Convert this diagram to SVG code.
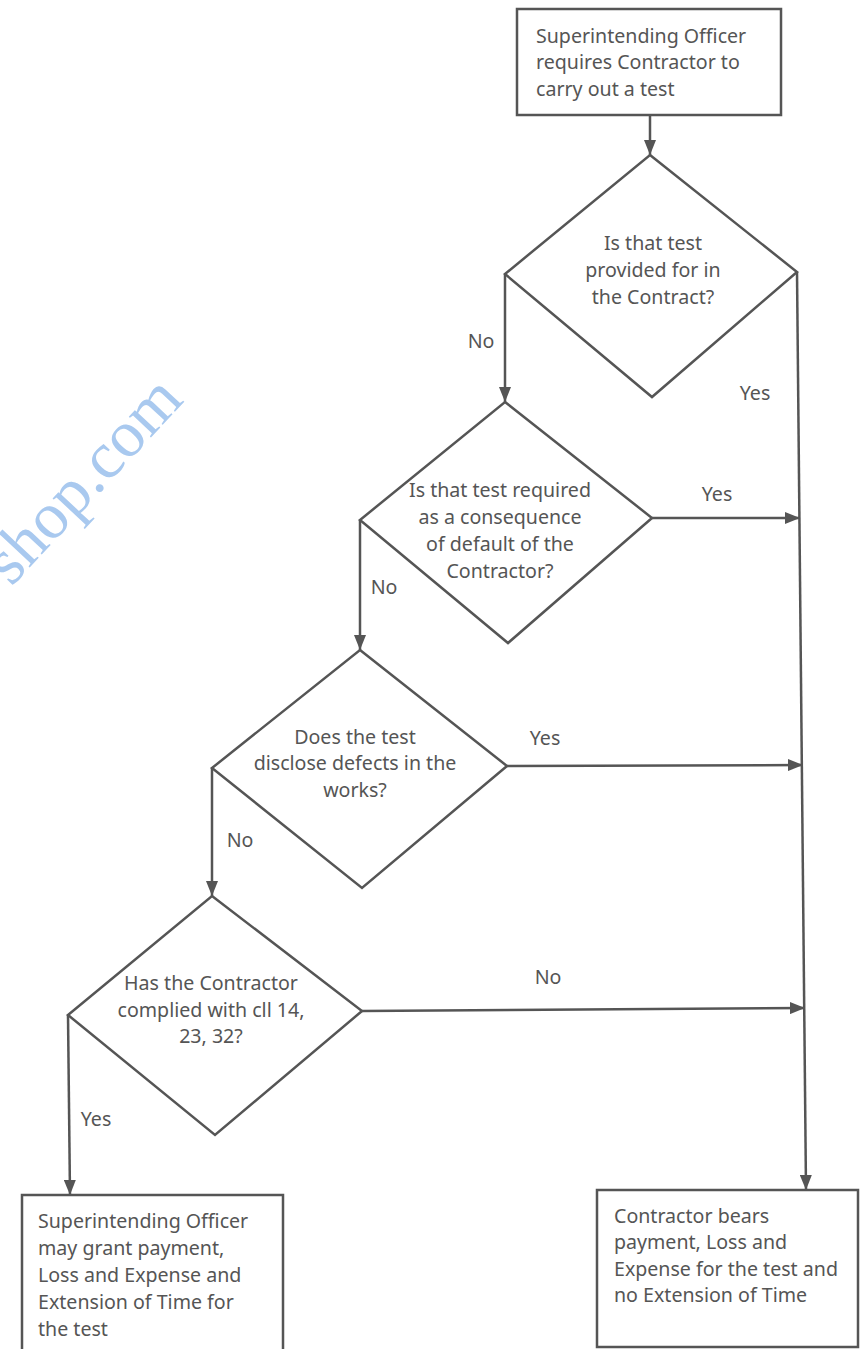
<svg xmlns="http://www.w3.org/2000/svg" width="860" height="1349" viewBox="0 0 860 1349">
<style>
.box{fill:#fff;stroke:#555;stroke-width:2.5}
.dia{fill:#fff;stroke:#555;stroke-width:2.5;stroke-linejoin:miter}
.t{font-family:"Noto Sans","Open Sans",sans-serif;font-size:19.6px;fill:#555}
.c{text-anchor:middle}
.conn{fill:none;stroke:#555;stroke-width:2.5}
.wm{font-family:"Liberation Serif",serif;font-size:66px;fill:#a9c9ef}
</style>
<defs>
<marker id="ah" markerUnits="userSpaceOnUse" markerWidth="16" markerHeight="12" refX="15" refY="6" orient="auto">
<path d="M0,0 L15,6 L0,12 z" fill="#555"/>
</marker>
</defs>
<rect width="860" height="1349" fill="#fff"/>
<text class="wm" transform="translate(185,401) rotate(-47)" text-anchor="end">shop.com</text>
<g id="connectors">
<path class="conn" d="M650,115 L650,155" marker-end="url(#ah)"/>
<path class="conn" d="M505,274 L505,402" marker-end="url(#ah)"/>
<path class="conn" d="M797,272 L806,1190" marker-end="url(#ah)"/>
<path class="conn" d="M652,518 L800,518" marker-end="url(#ah)"/>
<path class="conn" d="M360,520 L360,650" marker-end="url(#ah)"/>
<path class="conn" d="M507,766 L803,765" marker-end="url(#ah)"/>
<path class="conn" d="M212,768 L212,896" marker-end="url(#ah)"/>
<path class="conn" d="M362,1011 L805,1008" marker-end="url(#ah)"/>
<path class="conn" d="M68,1015 L70,1195" marker-end="url(#ah)"/>
<text class="t c" x="481" y="348">No</text>
<text class="t c" x="755" y="400">Yes</text>
<text class="t c" x="717" y="501">Yes</text>
<text class="t c" x="384" y="594">No</text>
<text class="t c" x="545" y="745">Yes</text>
<text class="t c" x="240" y="847">No</text>
<text class="t c" x="548" y="984">No</text>
<text class="t c" x="96" y="1126">Yes</text>
</g>
<g id="start">
<rect class="box" x="517" y="9" width="264" height="106"/>
<text class="t" x="536" y="43">Superintending Officer</text>
<text class="t" x="536" y="69">requires Contractor to</text>
<text class="t" x="536" y="96">carry out a test</text>
</g>
<g id="d1">
<polygon class="dia" points="650,155 797,272 652,397 505,274"/>
<text class="t c" x="653" y="250">Is that test</text>
<text class="t c" x="653" y="277">provided for in</text>
<text class="t c" x="653" y="304">the Contract?</text>
</g>
<g id="d2">
<polygon class="dia" points="505,402 652,518 508,643 360,520"/>
<text class="t c" x="500" y="497">Is that test required</text>
<text class="t c" x="500" y="524">as a consequence</text>
<text class="t c" x="500" y="551">of default of the</text>
<text class="t c" x="500" y="578">Contractor?</text>
</g>
<g id="d3">
<polygon class="dia" points="360,650 507,766 362,888 212,768"/>
<text class="t c" x="355" y="744">Does the test</text>
<text class="t c" x="355" y="770">disclose defects in the</text>
<text class="t c" x="355" y="797">works?</text>
</g>
<g id="d4">
<polygon class="dia" points="212,896 362,1011 215,1135 68,1015"/>
<text class="t c" x="211" y="990">Has the Contractor</text>
<text class="t c" x="211" y="1017">complied with cll 14,</text>
<text class="t c" x="211" y="1043">23, 32?</text>
</g>
<g id="grant">
<rect class="box" x="22" y="1195" width="261" height="170"/>
<text class="t" x="38" y="1228">Superintending Officer</text>
<text class="t" x="38" y="1255">may grant payment,</text>
<text class="t" x="38" y="1282">Loss and Expense and</text>
<text class="t" x="38" y="1309">Extension of Time for</text>
<text class="t" x="38" y="1336">the test</text>
</g>
<g id="bears">
<rect class="box" x="597" y="1190" width="261" height="157"/>
<text class="t" x="614" y="1223">Contractor bears</text>
<text class="t" x="614" y="1249">payment, Loss and</text>
<text class="t" x="614" y="1276">Expense for the test and</text>
<text class="t" x="614" y="1302">no Extension of Time</text>
</g>
</svg>
